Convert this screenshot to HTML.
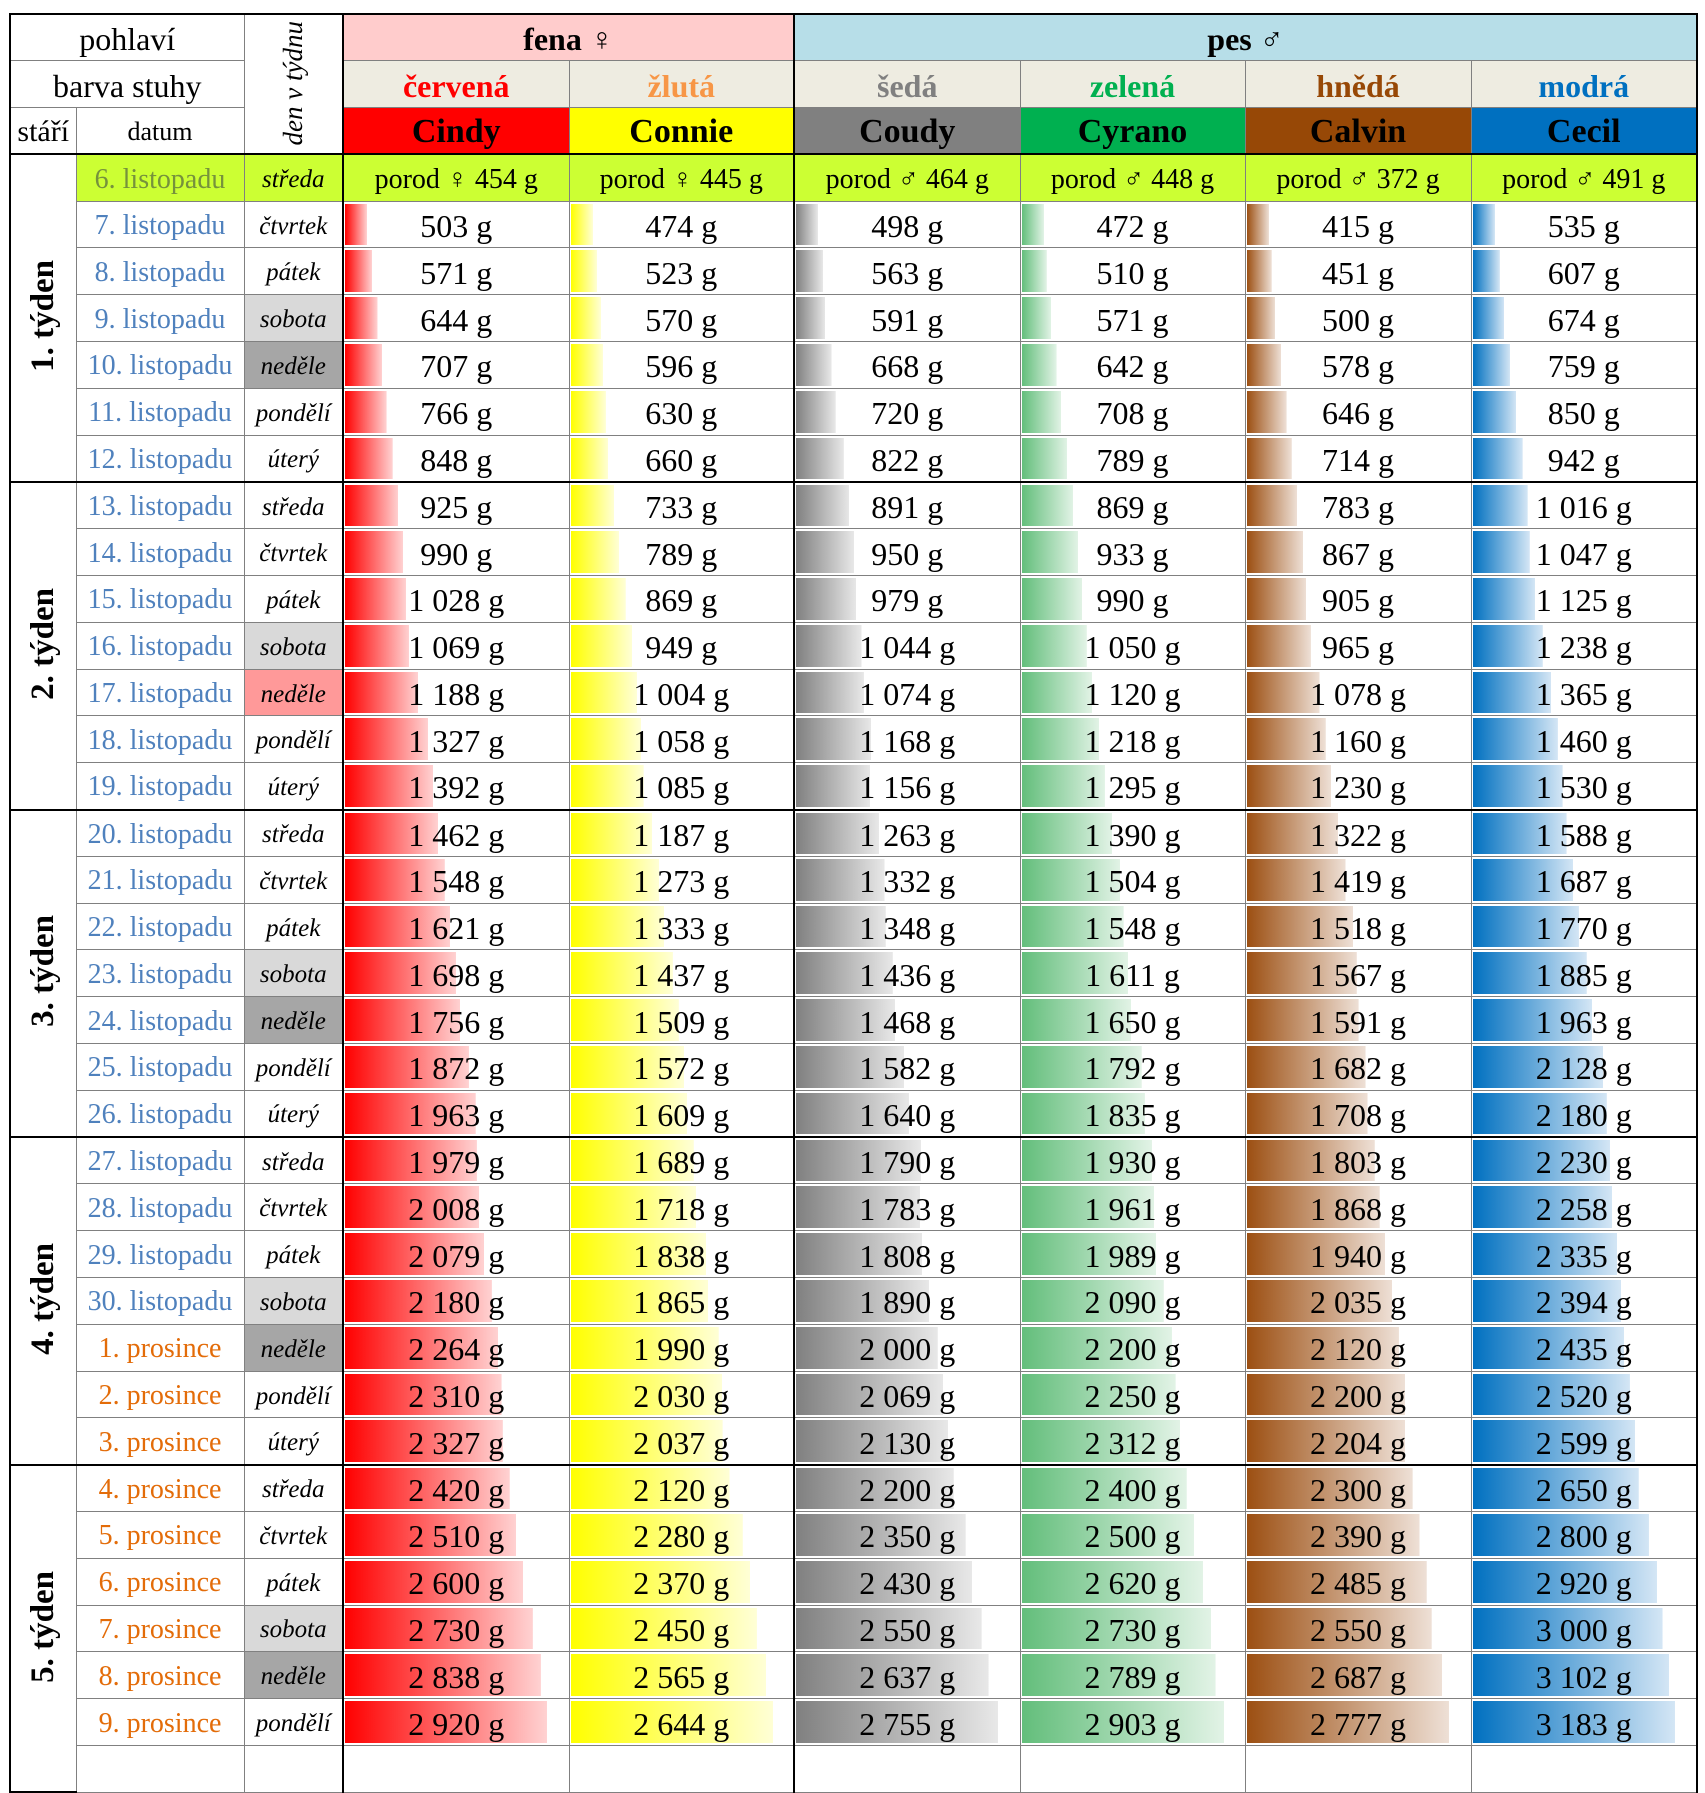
<!DOCTYPE html>
<html><head><meta charset="utf-8"><style>
html,body{margin:0;padding:0;background:#fff;width:1705px;height:1761px;overflow:hidden}
table{position:absolute;left:9px;top:13px;border-collapse:collapse;table-layout:fixed;font-family:"Liberation Serif",serif;color:#000}
td{border:1px solid #808080;padding:0;padding-top:3px;text-align:center;white-space:nowrap;overflow:hidden;font-size:32px;line-height:1}
tr{height:46.8px}
.tb td{border-top:2px solid #000}
td.v{border-right:2px solid #000}
td.wk{border-left:2px solid #000;border-top:2px solid #000;border-bottom:2px solid #000;font-weight:bold;font-size:33px}
.wk span{display:inline-block;writing-mode:vertical-rl;transform:rotate(180deg)}
td.r{border-right:2px solid #000}
.d{font-size:28px;color:#4F81BD}
.p{color:#E36C09}
.w{font-style:italic;font-size:25px}
.sa{background:#D9D9D9}.ne{background:#A6A6A6}
.b{background-repeat:no-repeat;background-position:1px center;background-size:calc(22px + (var(--v) - var(--mn)) * 180px / var(--rg)) calc(100% - 4px)}
.c1{--mn:503;--rg:2417;background-image:linear-gradient(to right,#f00,#ffd2d2)}
.c2{--mn:474;--rg:2170;background-image:linear-gradient(to right,#ff0,#ffffd6)}
.c3{--mn:498;--rg:2257;background-image:linear-gradient(to right,#808080,#e8e8e8)}
.c4{--mn:472;--rg:2431;background-image:linear-gradient(to right,#63BE7B,#e2f3e6)}
.c5{--mn:415;--rg:2362;background-image:linear-gradient(to right,#9C4F12,#eee0d6)}
.c6{--mn:535;--rg:2648;background-image:linear-gradient(to right,#0070C0,#d4e6f5)}
.lime td{background:#CCFF33}
.pr{font-size:28px}
.hd{font-size:34px}
</style></head><body>
<table>
<colgroup><col style="width:66px"><col style="width:168px"><col style="width:99px"><col style="width:226px"><col style="width:225px"><col style="width:226px"><col style="width:225px"><col style="width:226px"><col style="width:226px"></colgroup>
<tr><td colspan="2" style="border-left:2px solid #000;border-top:2px solid #000">pohlaví</td><td rowspan="3" class="v w" style="border-top:2px solid #000;font-size:27px"><span style="display:inline-block;writing-mode:vertical-rl;transform:rotate(180deg)">den v týdnu</span></td><td colspan="2" class="v" style="background:#FFCCCC;font-weight:bold;border-top:2px solid #000">fena ♀</td><td colspan="4" class="r" style="background:#B7DEE8;font-weight:bold;border-top:2px solid #000">pes ♂</td></tr>
<tr style="background:#EEECE1;font-weight:bold"><td colspan="2" style="background:#fff;font-weight:normal;border-left:2px solid #000">barva stuhy</td><td style="color:#f00">červená</td><td class="v" style="color:#F79646">žlutá</td><td style="color:#808080">šedá</td><td style="color:#00B050">zelená</td><td style="color:#974806">hnědá</td><td class="r" style="color:#0070C0">modrá</td></tr>
<tr style="font-weight:bold"><td style="font-weight:normal;font-size:30px;border-left:2px solid #000">stáří</td><td style="font-weight:normal;font-size:26px">datum</td><td class="hd" style="background:#f00">Cindy</td><td class="v hd" style="background:#ff0">Connie</td><td class="hd" style="background:#808080">Coudy</td><td class="hd" style="background:#00B050">Cyrano</td><td class="hd" style="background:#974806">Calvin</td><td class="r hd" style="background:#0070C0">Cecil</td></tr>
<tr class="tb lime"><td rowspan="7" class="wk" style="background:#fff"><span>1. týden</span></td><td class="d" style="color:#76923C">6. listopadu</td><td class="w v">středa</td><td class="pr">porod ♀ 454 g</td><td class="v pr">porod ♀ 445 g</td><td class="pr">porod ♂ 464 g</td><td class="pr">porod ♂ 448 g</td><td class="pr">porod ♂ 372 g</td><td class="r pr">porod ♂ 491 g</td></tr>
<tr><td class="d">7. listopadu</td><td class="w v">čtvrtek</td><td class="b c1" style="--v:503">503 g</td><td class="b c2 v" style="--v:474">474 g</td><td class="b c3" style="--v:498">498 g</td><td class="b c4" style="--v:472">472 g</td><td class="b c5" style="--v:415">415 g</td><td class="b c6 r" style="--v:535">535 g</td></tr>
<tr><td class="d">8. listopadu</td><td class="w v">pátek</td><td class="b c1" style="--v:571">571 g</td><td class="b c2 v" style="--v:523">523 g</td><td class="b c3" style="--v:563">563 g</td><td class="b c4" style="--v:510">510 g</td><td class="b c5" style="--v:451">451 g</td><td class="b c6 r" style="--v:607">607 g</td></tr>
<tr><td class="d">9. listopadu</td><td class="w v sa">sobota</td><td class="b c1" style="--v:644">644 g</td><td class="b c2 v" style="--v:570">570 g</td><td class="b c3" style="--v:591">591 g</td><td class="b c4" style="--v:571">571 g</td><td class="b c5" style="--v:500">500 g</td><td class="b c6 r" style="--v:674">674 g</td></tr>
<tr><td class="d">10. listopadu</td><td class="w v ne">neděle</td><td class="b c1" style="--v:707">707 g</td><td class="b c2 v" style="--v:596">596 g</td><td class="b c3" style="--v:668">668 g</td><td class="b c4" style="--v:642">642 g</td><td class="b c5" style="--v:578">578 g</td><td class="b c6 r" style="--v:759">759 g</td></tr>
<tr><td class="d">11. listopadu</td><td class="w v">pondělí</td><td class="b c1" style="--v:766">766 g</td><td class="b c2 v" style="--v:630">630 g</td><td class="b c3" style="--v:720">720 g</td><td class="b c4" style="--v:708">708 g</td><td class="b c5" style="--v:646">646 g</td><td class="b c6 r" style="--v:850">850 g</td></tr>
<tr><td class="d">12. listopadu</td><td class="w v">úterý</td><td class="b c1" style="--v:848">848 g</td><td class="b c2 v" style="--v:660">660 g</td><td class="b c3" style="--v:822">822 g</td><td class="b c4" style="--v:789">789 g</td><td class="b c5" style="--v:714">714 g</td><td class="b c6 r" style="--v:942">942 g</td></tr>
<tr class="tb"><td rowspan="7" class="wk"><span>2. týden</span></td><td class="d">13. listopadu</td><td class="w v">středa</td><td class="b c1" style="--v:925">925 g</td><td class="b c2 v" style="--v:733">733 g</td><td class="b c3" style="--v:891">891 g</td><td class="b c4" style="--v:869">869 g</td><td class="b c5" style="--v:783">783 g</td><td class="b c6 r" style="--v:1016">1 016 g</td></tr>
<tr><td class="d">14. listopadu</td><td class="w v">čtvrtek</td><td class="b c1" style="--v:990">990 g</td><td class="b c2 v" style="--v:789">789 g</td><td class="b c3" style="--v:950">950 g</td><td class="b c4" style="--v:933">933 g</td><td class="b c5" style="--v:867">867 g</td><td class="b c6 r" style="--v:1047">1 047 g</td></tr>
<tr><td class="d">15. listopadu</td><td class="w v">pátek</td><td class="b c1" style="--v:1028">1 028 g</td><td class="b c2 v" style="--v:869">869 g</td><td class="b c3" style="--v:979">979 g</td><td class="b c4" style="--v:990">990 g</td><td class="b c5" style="--v:905">905 g</td><td class="b c6 r" style="--v:1125">1 125 g</td></tr>
<tr><td class="d">16. listopadu</td><td class="w v sa">sobota</td><td class="b c1" style="--v:1069">1 069 g</td><td class="b c2 v" style="--v:949">949 g</td><td class="b c3" style="--v:1044">1 044 g</td><td class="b c4" style="--v:1050">1 050 g</td><td class="b c5" style="--v:965">965 g</td><td class="b c6 r" style="--v:1238">1 238 g</td></tr>
<tr><td class="d">17. listopadu</td><td class="w v" style="background:#FF9999">neděle</td><td class="b c1" style="--v:1188">1 188 g</td><td class="b c2 v" style="--v:1004">1 004 g</td><td class="b c3" style="--v:1074">1 074 g</td><td class="b c4" style="--v:1120">1 120 g</td><td class="b c5" style="--v:1078">1 078 g</td><td class="b c6 r" style="--v:1365">1 365 g</td></tr>
<tr><td class="d">18. listopadu</td><td class="w v">pondělí</td><td class="b c1" style="--v:1327">1 327 g</td><td class="b c2 v" style="--v:1058">1 058 g</td><td class="b c3" style="--v:1168">1 168 g</td><td class="b c4" style="--v:1218">1 218 g</td><td class="b c5" style="--v:1160">1 160 g</td><td class="b c6 r" style="--v:1460">1 460 g</td></tr>
<tr><td class="d">19. listopadu</td><td class="w v">úterý</td><td class="b c1" style="--v:1392">1 392 g</td><td class="b c2 v" style="--v:1085">1 085 g</td><td class="b c3" style="--v:1156">1 156 g</td><td class="b c4" style="--v:1295">1 295 g</td><td class="b c5" style="--v:1230">1 230 g</td><td class="b c6 r" style="--v:1530">1 530 g</td></tr>
<tr class="tb"><td rowspan="7" class="wk"><span>3. týden</span></td><td class="d">20. listopadu</td><td class="w v">středa</td><td class="b c1" style="--v:1462">1 462 g</td><td class="b c2 v" style="--v:1187">1 187 g</td><td class="b c3" style="--v:1263">1 263 g</td><td class="b c4" style="--v:1390">1 390 g</td><td class="b c5" style="--v:1322">1 322 g</td><td class="b c6 r" style="--v:1588">1 588 g</td></tr>
<tr><td class="d">21. listopadu</td><td class="w v">čtvrtek</td><td class="b c1" style="--v:1548">1 548 g</td><td class="b c2 v" style="--v:1273">1 273 g</td><td class="b c3" style="--v:1332">1 332 g</td><td class="b c4" style="--v:1504">1 504 g</td><td class="b c5" style="--v:1419">1 419 g</td><td class="b c6 r" style="--v:1687">1 687 g</td></tr>
<tr><td class="d">22. listopadu</td><td class="w v">pátek</td><td class="b c1" style="--v:1621">1 621 g</td><td class="b c2 v" style="--v:1333">1 333 g</td><td class="b c3" style="--v:1348">1 348 g</td><td class="b c4" style="--v:1548">1 548 g</td><td class="b c5" style="--v:1518">1 518 g</td><td class="b c6 r" style="--v:1770">1 770 g</td></tr>
<tr><td class="d">23. listopadu</td><td class="w v sa">sobota</td><td class="b c1" style="--v:1698">1 698 g</td><td class="b c2 v" style="--v:1437">1 437 g</td><td class="b c3" style="--v:1436">1 436 g</td><td class="b c4" style="--v:1611">1 611 g</td><td class="b c5" style="--v:1567">1 567 g</td><td class="b c6 r" style="--v:1885">1 885 g</td></tr>
<tr><td class="d">24. listopadu</td><td class="w v ne">neděle</td><td class="b c1" style="--v:1756">1 756 g</td><td class="b c2 v" style="--v:1509">1 509 g</td><td class="b c3" style="--v:1468">1 468 g</td><td class="b c4" style="--v:1650">1 650 g</td><td class="b c5" style="--v:1591">1 591 g</td><td class="b c6 r" style="--v:1963">1 963 g</td></tr>
<tr><td class="d">25. listopadu</td><td class="w v">pondělí</td><td class="b c1" style="--v:1872">1 872 g</td><td class="b c2 v" style="--v:1572">1 572 g</td><td class="b c3" style="--v:1582">1 582 g</td><td class="b c4" style="--v:1792">1 792 g</td><td class="b c5" style="--v:1682">1 682 g</td><td class="b c6 r" style="--v:2128">2 128 g</td></tr>
<tr><td class="d">26. listopadu</td><td class="w v">úterý</td><td class="b c1" style="--v:1963">1 963 g</td><td class="b c2 v" style="--v:1609">1 609 g</td><td class="b c3" style="--v:1640">1 640 g</td><td class="b c4" style="--v:1835">1 835 g</td><td class="b c5" style="--v:1708">1 708 g</td><td class="b c6 r" style="--v:2180">2 180 g</td></tr>
<tr class="tb"><td rowspan="7" class="wk"><span>4. týden</span></td><td class="d">27. listopadu</td><td class="w v">středa</td><td class="b c1" style="--v:1979">1 979 g</td><td class="b c2 v" style="--v:1689">1 689 g</td><td class="b c3" style="--v:1790">1 790 g</td><td class="b c4" style="--v:1930">1 930 g</td><td class="b c5" style="--v:1803">1 803 g</td><td class="b c6 r" style="--v:2230">2 230 g</td></tr>
<tr><td class="d">28. listopadu</td><td class="w v">čtvrtek</td><td class="b c1" style="--v:2008">2 008 g</td><td class="b c2 v" style="--v:1718">1 718 g</td><td class="b c3" style="--v:1783">1 783 g</td><td class="b c4" style="--v:1961">1 961 g</td><td class="b c5" style="--v:1868">1 868 g</td><td class="b c6 r" style="--v:2258">2 258 g</td></tr>
<tr><td class="d">29. listopadu</td><td class="w v">pátek</td><td class="b c1" style="--v:2079">2 079 g</td><td class="b c2 v" style="--v:1838">1 838 g</td><td class="b c3" style="--v:1808">1 808 g</td><td class="b c4" style="--v:1989">1 989 g</td><td class="b c5" style="--v:1940">1 940 g</td><td class="b c6 r" style="--v:2335">2 335 g</td></tr>
<tr><td class="d">30. listopadu</td><td class="w v sa">sobota</td><td class="b c1" style="--v:2180">2 180 g</td><td class="b c2 v" style="--v:1865">1 865 g</td><td class="b c3" style="--v:1890">1 890 g</td><td class="b c4" style="--v:2090">2 090 g</td><td class="b c5" style="--v:2035">2 035 g</td><td class="b c6 r" style="--v:2394">2 394 g</td></tr>
<tr><td class="d p">1. prosince</td><td class="w v ne">neděle</td><td class="b c1" style="--v:2264">2 264 g</td><td class="b c2 v" style="--v:1990">1 990 g</td><td class="b c3" style="--v:2000">2 000 g</td><td class="b c4" style="--v:2200">2 200 g</td><td class="b c5" style="--v:2120">2 120 g</td><td class="b c6 r" style="--v:2435">2 435 g</td></tr>
<tr><td class="d p">2. prosince</td><td class="w v">pondělí</td><td class="b c1" style="--v:2310">2 310 g</td><td class="b c2 v" style="--v:2030">2 030 g</td><td class="b c3" style="--v:2069">2 069 g</td><td class="b c4" style="--v:2250">2 250 g</td><td class="b c5" style="--v:2200">2 200 g</td><td class="b c6 r" style="--v:2520">2 520 g</td></tr>
<tr><td class="d p">3. prosince</td><td class="w v">úterý</td><td class="b c1" style="--v:2327">2 327 g</td><td class="b c2 v" style="--v:2037">2 037 g</td><td class="b c3" style="--v:2130">2 130 g</td><td class="b c4" style="--v:2312">2 312 g</td><td class="b c5" style="--v:2204">2 204 g</td><td class="b c6 r" style="--v:2599">2 599 g</td></tr>
<tr class="tb"><td rowspan="7" class="wk"><span>5. týden</span></td><td class="d p">4. prosince</td><td class="w v">středa</td><td class="b c1" style="--v:2420">2 420 g</td><td class="b c2 v" style="--v:2120">2 120 g</td><td class="b c3" style="--v:2200">2 200 g</td><td class="b c4" style="--v:2400">2 400 g</td><td class="b c5" style="--v:2300">2 300 g</td><td class="b c6 r" style="--v:2650">2 650 g</td></tr>
<tr><td class="d p">5. prosince</td><td class="w v">čtvrtek</td><td class="b c1" style="--v:2510">2 510 g</td><td class="b c2 v" style="--v:2280">2 280 g</td><td class="b c3" style="--v:2350">2 350 g</td><td class="b c4" style="--v:2500">2 500 g</td><td class="b c5" style="--v:2390">2 390 g</td><td class="b c6 r" style="--v:2800">2 800 g</td></tr>
<tr><td class="d p">6. prosince</td><td class="w v">pátek</td><td class="b c1" style="--v:2600">2 600 g</td><td class="b c2 v" style="--v:2370">2 370 g</td><td class="b c3" style="--v:2430">2 430 g</td><td class="b c4" style="--v:2620">2 620 g</td><td class="b c5" style="--v:2485">2 485 g</td><td class="b c6 r" style="--v:2920">2 920 g</td></tr>
<tr><td class="d p">7. prosince</td><td class="w v sa">sobota</td><td class="b c1" style="--v:2730">2 730 g</td><td class="b c2 v" style="--v:2450">2 450 g</td><td class="b c3" style="--v:2550">2 550 g</td><td class="b c4" style="--v:2730">2 730 g</td><td class="b c5" style="--v:2550">2 550 g</td><td class="b c6 r" style="--v:3000">3 000 g</td></tr>
<tr><td class="d p">8. prosince</td><td class="w v ne">neděle</td><td class="b c1" style="--v:2838">2 838 g</td><td class="b c2 v" style="--v:2565">2 565 g</td><td class="b c3" style="--v:2637">2 637 g</td><td class="b c4" style="--v:2789">2 789 g</td><td class="b c5" style="--v:2687">2 687 g</td><td class="b c6 r" style="--v:3102">3 102 g</td></tr>
<tr><td class="d p">9. prosince</td><td class="w v">pondělí</td><td class="b c1" style="--v:2920">2 920 g</td><td class="b c2 v" style="--v:2644">2 644 g</td><td class="b c3" style="--v:2755">2 755 g</td><td class="b c4" style="--v:2903">2 903 g</td><td class="b c5" style="--v:2777">2 777 g</td><td class="b c6 r" style="--v:3183">3 183 g</td></tr>
<tr><td class="d p"></td><td class="w v"></td><td></td><td class="v"></td><td></td><td></td><td></td><td class="r"></td></tr>
</table>
</body></html>
